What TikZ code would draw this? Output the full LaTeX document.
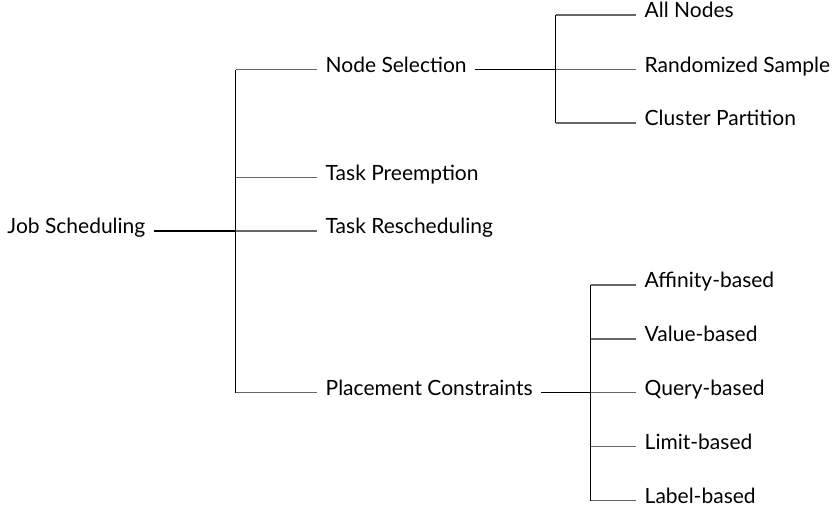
\documentclass[tikz,border=0pt]{standalone}
\usepackage{fontspec}
\setmainfont{Lato}
\tikzset{
	leaf/.style={anchor=west, inner xsep=8.5pt, inner ysep=0pt, text height=0.72em, text depth=0.22em, font=\fontsize{21}{25}\selectfont},
	trunk/.style={line width=1.6pt, black},
	bar/.style={line width=1.2pt, black},
	twig/.style={line width=1.2pt, black!60}
}
\begin{document}
\begin{tikzpicture}[x=1pt, y=-1pt]
		\useasboundingbox (0,0) rectangle (834,514);

		\node[leaf, anchor=east] (job) at (154,231) {Job Scheduling};

		\node[leaf] (sel) at (317,69.5) {Node Selection};
		\node[leaf] (pre) at (317,177.5) {Task Preemption};
		\node[leaf] (res) at (317,231) {Task Rescheduling};
		\node[leaf] (pla) at (317,392.5) {Placement Constraints};

		\node[leaf] (all) at (636,15) {All Nodes};
		\node[leaf] (ran) at (636,69.5) {Randomized Sample};
		\node[leaf] (clu) at (636,123) {Cluster Partition};

		\node[leaf] (aff) at (636,285) {Affinity-based};
		\node[leaf] (val) at (636,339) {Value-based};
		\node[leaf] (que) at (636,392.5) {Query-based};
		\node[leaf] (lim) at (636,446.5) {Limit-based};
		\node[leaf] (lab) at (636,500.5) {Label-based};

		\coordinate (b1) at (235.7,231);
		\coordinate (b2) at (555.7,69.5);
		\coordinate (b3) at (590.7,392.5);

		% level one
		\draw[twig] (b1 |- sel.west) -- (sel.west);
		\draw[twig] (b1 |- pre.west) -- (pre.west);
		\draw[twig] (b1) -- (res.west);
		\draw[twig] (b1 |- pla.west) -- (pla.west);
		\draw[bar] (b1 |- sel.west) -- (b1 |- pla.west);
		\draw[trunk] (job.east) -- (b1);

		% level two
		\draw[twig] (b2 |- all.west) -- (all.west);
		\draw[twig] (b2) -- (ran.west);
		\draw[twig] (b2 |- clu.west) -- (clu.west);
		\draw[bar] (b2 |- all.west) -- (b2 |- clu.west);
		\draw[trunk] (sel.east) -- (b2);

		\draw[twig] (b3 |- aff.west) -- (aff.west);
		\draw[twig] (b3 |- val.west) -- (val.west);
		\draw[twig] (b3) -- (que.west);
		\draw[twig] (b3 |- lim.west) -- (lim.west);
		\draw[twig] (b3 |- lab.west) -- (lab.west);
		\draw[bar] (b3 |- aff.west) -- (b3 |- lab.west);
		\draw[trunk] (pla.east) -- (b3);
	\end{tikzpicture}
\end{document}
